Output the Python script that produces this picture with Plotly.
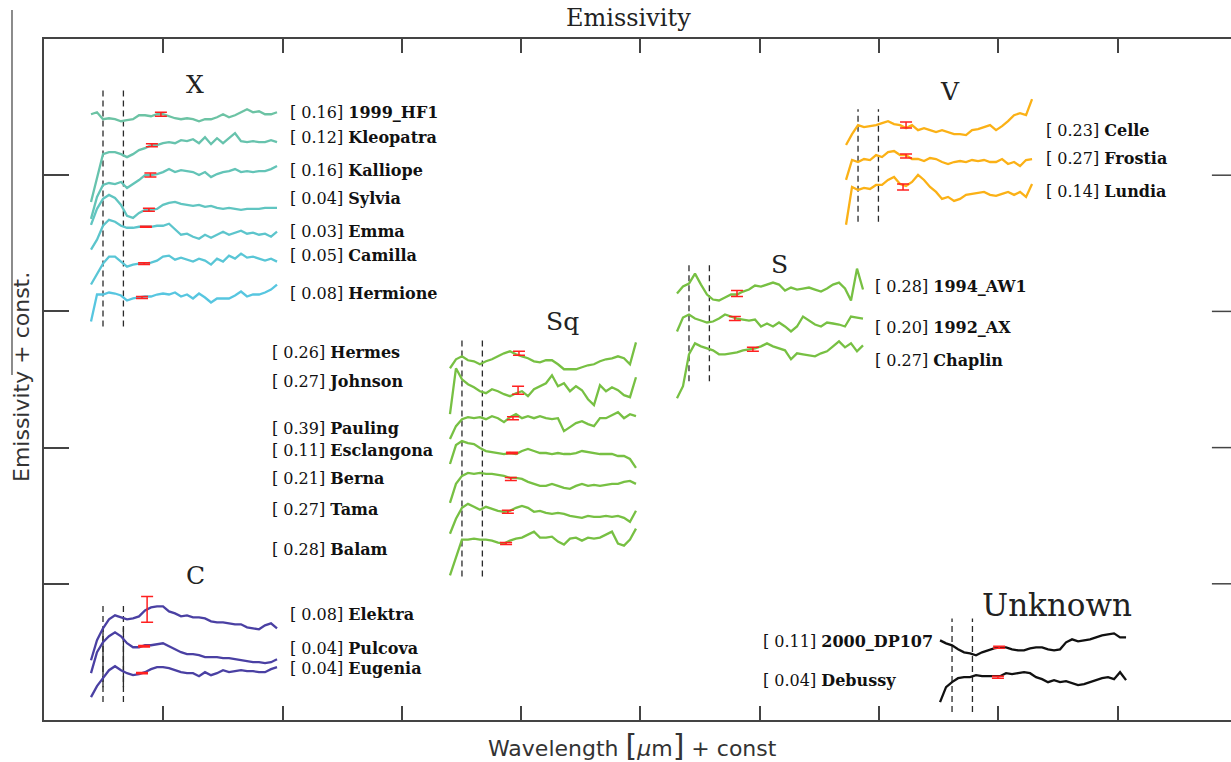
import plotly.graph_objects as go

# ---------------- data ----------------
# common wavelength grid (micron) of every spectrum
WAVE = [7.5, 7.7, 7.9, 8.1, 8.3, 8.5, 8.7, 8.9, 9.1, 9.3, 9.5, 9.7, 9.9, 10.1, 10.3, 10.5,
        10.7, 10.9, 11.1, 11.3, 11.5, 11.7, 11.9, 12.1, 12.3, 12.5, 12.7, 12.9, 13.1, 13.3, 13.5, 13.7]
DASH_UM = [7.9, 8.58]          # vertical dashed reference wavelengths

# spectra: emissivity deviation in per-mille (emissivity = 1 + dev/1000)
# ---- X type
HF1 = [-5, -3, -10, -9, -10, -12, -11, -10, -6, -6, -7, -5, -5, -7, -9, -10, -9, -10, -12, -10, -10, -8, -5, -8, -6, -3, 0, -3, -2, -5, -5, -3]
KLEOPATRA = [-65, -40, -17, -15, -15, -17, -20, -17, -13, -11, -8, -8, -6, -5, -6, -3, -4, -2, -6, 0, -7, -1, -6, -1, 4, -4, -5, -4, -5, -5, -3, -5]
KALLIOPE = [-50, -28, -16, -14, -15, -13, -19, -15, -11, -6, -6, -5, -3, 0, -3, -1, -2, -3, -6, -3, -8, -5, -3, -2, 0, -3, -2, -3, -2, -2, 0, 3]
SYLVIA = [-23, -7, 3, 7, 4, -3, -14, -16, -11, -8, -8, -7, -3, -1, 0, -2, -3, -4, -3, -5, -4, -6, -7, -6, -7, -8, -7, -7, -7, -6, -6, -6]
EMMA = [-28, -18, -4, 2, 0, -4, -6, -6, -5, -5, -5, -4, -4, -2, -8, -13, -12, -15, -17, -13, -16, -13, -10, -13, -11, -9, -12, -11, -13, -12, -15, -10]
CAMILLA = [-28, -17, -7, 0, 0, -5, -10, -8, -7, -7, -6, -4, 0, 1, -3, -1, -3, -5, -2, -4, -8, -2, -5, 1, -2, 3, -1, 0, -2, -4, -2, -5]
HERMIONE = [-30, -3, -3, -1, -2, -4, -9, -7, -6, -5, -5, -3, -2, -3, -1, -5, -3, -7, -2, -6, -11, -7, -7, -7, -4, 0, -5, -3, -3, -1, 2, 7]
X_NAMES = ["1999_HF1", "Kleopatra", "Kalliope", "Sylvia", "Emma", "Camilla", "Hermione"]
X_CONTRAST = [0.16, 0.12, 0.16, 0.04, 0.03, 0.05, 0.08]
X_CONST = [4.484, 4.279, 4.045, 3.804, 3.658, 3.402, 3.146]
X_BAND_UM = [9.83, 9.53, 9.48, 9.43, 9.33, 9.27, 9.20]
X_BAND_DEV = [-5, -8, -6, -8, -5, -7, -6]
X_BAND_ERR = [2, 1.5, 2, 1.5, 0.5, 1, 1]

# ---- V type
CELLE = [-24, -13, -4, -6, -5, -4, -2, 0, -3, -4, -7, -4, -9, -7, -9, -11, -9, -11, -13, -13, -14, -9, -8, -6, -4, -9, -5, 0, 6, 8, 6, 22]
FROSTIA = [-28, -8, -10, -7, -8, -3, -5, 0, 1, -3, -3, -7, -7, -9, -6, -7, -10, -12, -10, -9, -10, -8, -9, -8, -10, -10, -7, -12, -10, -14, -8, -7]
LUNDIA = [-48, -10, -13, -11, -12, -8, -8, -3, 0, -7, -9, -5, 2, -3, -10, -15, -22, -20, -24, -22, -18, -17, -16, -15, -18, -19, -17, -15, -18, -15, -20, -7]
V_NAMES = ["Celle", "Frostia", "Lundia"]
V_CONTRAST = [0.23, 0.27, 0.14]
V_CONST = [4.397, 4.170, 3.987]
V_BAND_UM = [9.5, 9.5, 9.4]
V_BAND_DEV = [-4, -4, -10]
V_BAND_ERR = [3, 2, 3]

# ---- S type
AW1 = [-12, -5, -2, 8, -3, -13, -18, -19, -16, -13, -13, -10, -8, -4, -5, -3, -1, -3, -9, -6, -8, -7, -6, -8, -10, -7, -3, -1, -7, -19, 13, -8]
AX = [-17, -3, 0, -4, -6, -8, -7, -4, 0, -2, -4, -5, -6, -5, -12, -9, -12, -8, -12, -17, -12, -2, -6, -10, -12, -8, -9, -10, -12, -2, -3, -4]
CHAPLIN = [-57, -45, -13, -2, -5, -7, -9, -13, -13, -12, -11, -9, -8, -7, -5, -2, -5, -7, -9, -18, -12, -13, -14, -15, -12, -10, -5, 0, -6, -2, -10, -4]
S_NAMES = ["1994_AW1", "1992_AX", "Chaplin"]
S_CONTRAST = [0.28, 0.20, 0.27]
S_CONST = [3.219, 2.977, 2.780]
S_BAND_UM = [9.5, 9.43, 10.03]
S_BAND_DEV = [-12, -4, -8]
S_BAND_ERR = [3, 2, 2]

# ---- Sq type
HERMES = [-17, -8, -5, -9, -10, -13, -10, -8, -5, -2, 0, -3, -5, -7, -10, -11, -9, -9, -13, -18, -18, -18, -16, -14, -13, -10, -8, -7, -5, -7, -13, 9]
JOHNSON = [-39, 7, -4, -9, -12, -16, -18, -14, -16, -19, -21, -18, -16, -21, -14, -11, -8, 0, -11, -8, -16, -11, -15, -24, -30, -10, -16, -12, -15, -20, -22, -2]
PAULING = [-27, -14, -7, -5, -6, -5, -7, -4, -6, -10, -5, -2, -6, -4, -6, -4, -6, -7, -6, -19, -15, -11, -9, -12, -14, -6, -6, -3, 0, -6, -2, -4]
ESCLANGONA = [-23, -4, 0, -2, -3, -7, -10, -11, -12, -13, -12, -13, -10, -8, -10, -12, -12, -13, -12, -13, -13, -12, -10, -11, -12, -13, -13, -13, -15, -15, -18, -27]
BERNA = [-30, -11, -3, 0, -1, 0, -1, -1, -2, -3, -5, -5, -6, -9, -11, -13, -13, -11, -13, -15, -16, -13, -11, -13, -12, -13, -12, -11, -11, -9, -8, -11]
TAMA = [-30, -15, -4, 0, -3, -6, -3, -5, -7, -8, -7, -4, -2, -4, -8, -7, -9, -10, -9, -10, -12, -13, -14, -12, -13, -13, -12, -13, -12, -14, -18, -7]
BALAM = [-44, -27, -8, -8, -7, -8, -8, -9, -11, -12, -9, -7, -6, -3, 0, -6, -6, -5, -10, -13, -7, -6, -9, -6, -7, -6, -3, 0, -12, -14, -8, 3]
SQ_NAMES = ["Hermes", "Johnson", "Pauling", "Esclangona", "Berna", "Tama", "Balam"]
SQ_CONTRAST = [0.26, 0.27, 0.39, 0.11, 0.21, 0.27, 0.28]
SQ_CONST = [2.707, 2.531, 2.260, 2.048, 1.814, 1.587, 1.383]
SQ_BAND_UM = [9.8, 9.77, 9.6, 9.57, 9.53, 9.43, 9.37]
SQ_BAND_DEV = [-2, -15, -6, -12, -6, -8, -12]
SQ_BAND_ERR = [2, 4, 1.5, 0.7, 1.5, 1.5, 1]

# ---- C type
ELEKTRA = [-54, -34, -22, -13, -9, -11, -13, -12, -10, -4, -1, 0, 0, -5, -7, -10, -9, -11, -11, -12, -15, -16, -16, -17, -18, -18, -21, -22, -23, -19, -17, -22]
PULCOVA = [-41, -20, -10, -4, 0, -4, -11, -15, -15, -13, -13, -12, -11, -14, -17, -20, -22, -22, -23, -25, -25, -25, -26, -26, -27, -28, -29, -30, -30, -31, -30, -27]
EUGENIA = [-31, -20, -12, -4, 0, -4, -7, -9, -8, -6, -3, -1, -1, -2, -4, -6, -7, -7, -10, -6, -9, -7, -4, -6, -5, -4, -5, -5, -6, -6, -3, -1]
C_NAMES = ["Elektra", "Pulcova", "Eugenia"]
C_CONTRAST = [0.08, 0.04, 0.04]
C_CONST = [0.834, 0.644, 0.395]
C_BAND_UM = [9.37, 9.27, 9.20]
C_BAND_DEV = [-3, -14, -7]
C_BAND_ERR = [13, 0.7, 0.7]

# ---- Unknown
DP107 = [-7, -10, -12, -16, -19, -20, -22, -19, -17, -15, -14, -14, -16, -17, -17, -15, -14, -14, -16, -17, -16, -9, -6, -8, -7, -6, -4, -2, -1, 0, -4, -4]
DEBUSSY = [-30, -15, -10, -6, -5, -5, -3, -4, -4, -4, -4, -1, -2, -1, 0, -1, -5, -7, -10, -8, -10, -9, -11, -13, -12, -10, -8, -6, -5, -7, 0, -8]
U_NAMES = ["2000_DP107", "Debussy"]
U_CONTRAST = [0.11, 0.04]
U_CONST = [0.636, 0.351]
U_BAND_UM = [9.47, 9.43]
U_BAND_DEV = [-14, -5]
U_BAND_ERR = [1, 1]

# ---------------- layout helpers (scales / placement) ----------------
UM = 0.2515            # x-axis units per micron
EMIS_PER_UNIT = 0.1367  # emissivity per y-axis unit

GROUPS = [
    dict(title="X", spectra=[HF1, KLEOPATRA, KALLIOPE, SYLVIA, EMMA, CAMILLA, HERMIONE],
         names=X_NAMES, contrast=X_CONTRAST, const=X_CONST,
         bum=X_BAND_UM, bdev=X_BAND_DEV, berr=X_BAND_ERR,
         colors=["#6cc3a4", "#67c3ad", "#63c4b7", "#60c5c1", "#5cc5cc", "#59c6d6", "#57c6e0"],
         x0=0.394, dash_y=(2.890, 4.623), lab_x=2.045,
         lab_y=[4.462, 4.279, 4.038, 3.826, 3.585, 3.409, 3.131],
         tpos=(1.266, 4.667), tsize=25),
    dict(title="V", spectra=[CELLE, FROSTIA, LUNDIA],
         names=V_NAMES, contrast=V_CONTRAST, const=V_CONST,
         bum=V_BAND_UM, bdev=V_BAND_DEV, berr=V_BAND_ERR,
         colors=["#fbb116"] * 3,
         x0=6.723, dash_y=(3.658, 4.484), lab_x=8.382,
         lab_y=[4.331, 4.119, 3.877], tpos=(7.594, 4.616), tsize=25),
    dict(title="S", spectra=[AW1, AX, CHAPLIN],
         names=S_NAMES, contrast=S_CONTRAST, const=S_CONST,
         bum=S_BAND_UM, bdev=S_BAND_DEV, berr=S_BAND_ERR,
         colors=["#77c043"] * 3,
         x0=5.306, dash_y=(2.487, 3.365), lab_x=6.949,
         lab_y=[3.182, 2.882, 2.641], tpos=(6.169, 3.343), tsize=25),
    dict(title="Sq", spectra=[HERMES, JOHNSON, PAULING, ESCLANGONA, BERNA, TAMA, BALAM],
         names=SQ_NAMES, contrast=SQ_CONTRAST, const=SQ_CONST,
         bum=SQ_BAND_UM, bdev=SQ_BAND_DEV, berr=SQ_BAND_ERR,
         colors=["#77c043"] * 7,
         x0=3.403, dash_y=(1.053, 2.809), lab_x=1.894,
         lab_y=[2.699, 2.487, 2.143, 1.982, 1.770, 1.544, 1.251],
         tpos=(4.350, 2.926), tsize=25),
    dict(title="C", spectra=[ELEKTRA, PULCOVA, EUGENIA],
         names=C_NAMES, contrast=C_CONTRAST, const=C_CONST,
         bum=C_BAND_UM, bdev=C_BAND_DEV, berr=C_BAND_ERR,
         colors=["#4a40a3"] * 3,
         x0=0.394, dash_y=(0.132, 0.863), lab_x=2.045,
         lab_y=[0.775, 0.527, 0.380], tpos=(1.266, 1.061), tsize=25,
         solid_y=(0.241, 0.680)),
    dict(title="Unknown", spectra=[DP107, DEBUSSY],
         names=U_NAMES, contrast=U_CONTRAST, const=U_CONST,
         bum=U_BAND_UM, bdev=U_BAND_DEV, berr=U_BAND_ERR,
         colors=["#111111"] * 2,
         x0=7.511, dash_y=(0.059, 0.746), lab_x=6.010,
         lab_y=[0.578, 0.293], tpos=(8.491, 0.841), tsize=31),
]

fig = go.Figure()
annotations = []
SERIF = "DejaVu Serif"

for g in GROUPS:
    # dashed reference lines
    for d in DASH_UM:
        xd = g["x0"] + (d - WAVE[0]) * UM
        fig.add_trace(go.Scatter(x=[xd, xd], y=list(g["dash_y"]), mode="lines",
                                 line=dict(color="#2a2a2a", width=1.3, dash="6px,4px"),
                                 hoverinfo="skip", showlegend=False))
        if "solid_y" in g:
            fig.add_trace(go.Scatter(x=[xd, xd], y=list(g["solid_y"]), mode="lines",
                                     line=dict(color="#2a2a2a", width=1.3),
                                     hoverinfo="skip", showlegend=False))
    # spectra
    xs = [g["x0"] + (w - WAVE[0]) * UM for w in WAVE]
    for k, spec in enumerate(g["spectra"]):
        ys = [g["const"][k] + v / 1000.0 / EMIS_PER_UNIT for v in spec]
        fig.add_trace(go.Scatter(x=xs, y=ys, mode="lines",
                                 line=dict(color=g["colors"][k], width=2.3),
                                 hoverinfo="skip", showlegend=False))
    # band centre error bars
    bx = [g["x0"] + (w - WAVE[0]) * UM for w in g["bum"]]
    by = [g["const"][k] + g["bdev"][k] / 1000.0 / EMIS_PER_UNIT for k in range(len(bx))]
    be = [e / 1000.0 / EMIS_PER_UNIT for e in g["berr"]]
    fig.add_trace(go.Scatter(x=bx, y=by, mode="markers",
                             marker=dict(size=1, color="rgba(0,0,0,0)"),
                             error_y=dict(type="data", array=be, color="#ff2020",
                                          thickness=1.5, width=6),
                             hoverinfo="skip", showlegend=False))
    # labels
    for k, nm in enumerate(g["names"]):
        annotations.append(dict(x=g["lab_x"], y=g["lab_y"][k], xref="x", yref="y",
                                text=f"[ {g['contrast'][k]:.2f}] <b>{nm}</b>",
                                showarrow=False, xanchor="left", yanchor="middle",
                                font=dict(family=SERIF, size=16, color="#111")))
    # group title
    annotations.append(dict(x=g["tpos"][0], y=g["tpos"][1], xref="x", yref="y",
                            text=g["title"], showarrow=False, xanchor="center",
                            yanchor="middle",
                            font=dict(family=SERIF, size=g["tsize"], color="#222")))

# figure title and axis titles
annotations.append(dict(x=0.492, y=1.031, xref="paper", yref="paper", text="Emissivity",
                        showarrow=False, xanchor="center", yanchor="middle",
                        font=dict(family=SERIF, size=24, color="#222")))
annotations.append(dict(x=0.4954, y=-0.037, xref="paper", yref="paper",
                        text='Wavelength <span style="font-size:30px">[</span><i>μ</i>m'
                             '<span style="font-size:30px">]</span> + const',
                        showarrow=False, xanchor="center", yanchor="middle",
                        font=dict(family="DejaVu Sans", size=22, color="#333")))
annotations.append(dict(x=-0.0185, y=0.5037, xref="paper", yref="paper",
                        text="Emissivity + const.", textangle=-90,
                        showarrow=False, xanchor="center", yanchor="middle",
                        font=dict(family="DejaVu Sans", size=22, color="#333")))

shapes = []
# right-hand ticks (the right frame lies just outside the picture)
for yt in [1, 2, 3, 4]:
    shapes.append(dict(type="line", xref="x", yref="y", x0=9.79, x1=9.95, y0=yt, y1=yt,
                       line=dict(color="#444", width=1.5)))
# stray vertical rule at the left edge
shapes.append(dict(type="line", xref="paper", yref="paper", x0=-0.02696, x1=-0.02696,
                   y0=0.5066, y1=1.0426, line=dict(color="#666", width=1.5)))

fig.update_layout(
    width=1231, height=762,
    margin=dict(l=44, r=0, t=39, b=42),
    paper_bgcolor="white", plot_bgcolor="white",
    showlegend=False,
    annotations=annotations,
    shapes=shapes,
    xaxis=dict(range=[0, 9.95], showgrid=False, zeroline=False, showticklabels=False,
               ticks="inside", ticklen=14, tickwidth=1.5, tickcolor="#444",
               tickvals=[1, 2, 3, 4, 5, 6, 7, 8, 9],
               showline=True, linecolor="#444", linewidth=1.5, mirror="ticks"),
    yaxis=dict(range=[0, 5], showgrid=False, zeroline=False, showticklabels=False,
               ticks="inside", ticklen=25, tickwidth=1.5, tickcolor="#444",
               tickvals=[1, 2, 3, 4],
               showline=True, linecolor="#444", linewidth=1.5, mirror=False),
)

fig.write_html("out.html", config={"displayModeBar": False})
